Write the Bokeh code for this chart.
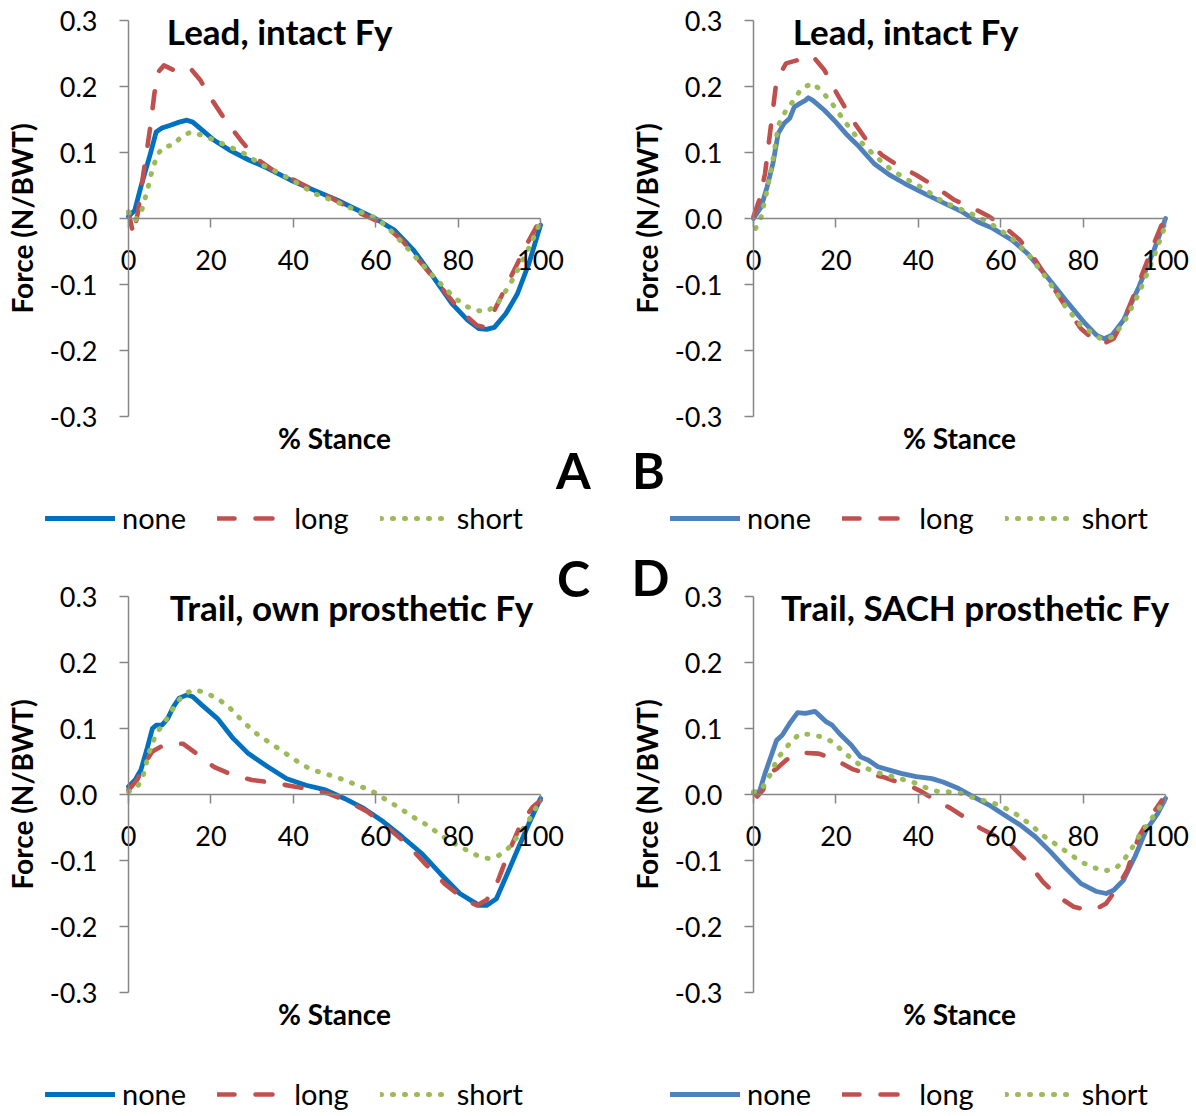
from bokeh.plotting import figure
from bokeh.models import Range1d, FixedTicker, Label, Legend, LegendItem
from bokeh.layouts import column, row
from bokeh.embed import file_html
from bokeh.resources import INLINE

# ---------------- data ----------------
series_names = ["none", "long", "short"]
x_ticks = [0, 20, 40, 60, 80, 100]
y_ticks = [-0.3, -0.2, -0.1, 0.0, 0.1, 0.2, 0.3]
y_tick_labels = ["-0.3", "-0.2", "-0.1", "0.0", "0.1", "0.2", "0.3"]
panel_titles = ["Lead, intact Fy", "Lead, intact Fy", "Trail, own prosthetic Fy", "Trail, SACH prosthetic Fy"]
panel_letters = ["A", "B", "C", "D"]

a_none_x = [0, 1.5, 3.0, 5.3, 6.7, 8.1, 10.0, 12.3, 14.2, 15.6, 17.9, 20.7, 24.4, 29.1, 33.8, 39.4, 45.0, 50.6, 55.2, 59.9, 64.6, 69.2, 73.9, 78.5, 82.3, 85.1, 86.9, 88.8, 91.6, 94.4, 97.2, 100]
a_none_y = [0.003, 0.012, 0.048, 0.098, 0.131, 0.137, 0.141, 0.146, 0.149, 0.146, 0.134, 0.119, 0.104, 0.089, 0.076, 0.058, 0.043, 0.028, 0.014, 0.0, -0.018, -0.048, -0.088, -0.129, -0.154, -0.167, -0.168, -0.165, -0.144, -0.114, -0.068, -0.010]
a_long_x = [0, 1.2, 2.3, 3.5, 5.3, 6.3, 7.2, 8.6, 10.9, 12.8, 15.1, 17.4, 19.8, 23.5, 27.2, 31.0, 35.6, 40.3, 45.0, 49.6, 54.3, 58.0, 61.8, 66.4, 71.1, 75.7, 80.4, 84.6, 86.0, 88.8, 91.6, 94.4, 97.2, 99.5]
a_long_y = [0.01, -0.025, 0.01, 0.063, 0.139, 0.19, 0.222, 0.232, 0.225, 0.23, 0.227, 0.21, 0.184, 0.149, 0.119, 0.091, 0.071, 0.058, 0.043, 0.030, 0.013, 0.003, -0.008, -0.033, -0.068, -0.103, -0.139, -0.162, -0.164, -0.139, -0.104, -0.068, -0.033, -0.007]
a_short_x = [0, 1.6, 3.2, 3.9, 4.7, 5.3, 6.2, 6.9, 8.6, 10.9, 12.8, 15.1, 17.9, 20.7, 24.4, 28.2, 31.9, 35.6, 40.3, 45.0, 50.6, 56.2, 60.4, 63.6, 67.4, 71.1, 74.8, 78.5, 81.3, 84.1, 86.9, 89.3, 92.5, 95.3, 97.7, 100]
a_short_y = [0.010, -0.003, 0.012, 0.028, 0.045, 0.063, 0.081, 0.096, 0.109, 0.111, 0.124, 0.131, 0.126, 0.119, 0.109, 0.098, 0.083, 0.072, 0.056, 0.038, 0.025, 0.010, 0.0, -0.018, -0.043, -0.068, -0.093, -0.116, -0.131, -0.139, -0.141, -0.131, -0.101, -0.068, -0.038, -0.005]

b_none_x = [0, 1.9, 3.3, 4.7, 6.0, 7.4, 8.8, 9.9, 11.2, 12.6, 13.3, 14.4, 17.2, 20.0, 22.8, 25.6, 29.3, 33.0, 36.7, 41.4, 46.0, 50.7, 54.4, 58.1, 62.8, 66.5, 71.2, 75.8, 80.5, 83.3, 85.1, 87.0, 89.8, 93.5, 97.2, 100]
b_none_y = [0.0, 0.018, 0.048, 0.083, 0.129, 0.144, 0.152, 0.169, 0.174, 0.179, 0.183, 0.179, 0.164, 0.146, 0.126, 0.109, 0.083, 0.066, 0.053, 0.038, 0.024, 0.010, -0.005, -0.015, -0.033, -0.053, -0.088, -0.124, -0.159, -0.177, -0.182, -0.177, -0.154, -0.104, -0.048, 0.0]
b_long_x = [0, 1.4, 2.8, 4.2, 5.6, 7.9, 10.7, 13.0, 14.9, 17.2, 20.0, 23.7, 27.4, 31.2, 34.9, 39.5, 44.2, 48.8, 53.5, 57.2, 60.9, 64.7, 68.4, 72.1, 75.8, 79.5, 83.3, 85.1, 87.4, 90.2, 93.5, 97.2, 99.5]
b_long_y = [0.003, 0.028, 0.068, 0.139, 0.210, 0.235, 0.240, 0.247, 0.242, 0.225, 0.192, 0.152, 0.119, 0.096, 0.081, 0.066, 0.048, 0.028, 0.015, 0.003, -0.013, -0.033, -0.063, -0.098, -0.134, -0.167, -0.187, -0.189, -0.182, -0.149, -0.098, -0.038, -0.003]
b_short_x = [0.5, 1.9, 3.3, 4.7, 6.0, 7.9, 9.8, 11.6, 14.4, 16.7, 19.1, 21.9, 25.6, 29.3, 33.0, 36.7, 41.4, 46.0, 50.7, 54.4, 58.1, 62.8, 66.5, 71.2, 75.8, 79.5, 84.2, 87.0, 89.8, 93.5, 97.2, 99.5]
b_short_y = [-0.015, 0.003, 0.043, 0.088, 0.141, 0.164, 0.179, 0.197, 0.205, 0.192, 0.174, 0.149, 0.119, 0.096, 0.076, 0.061, 0.045, 0.025, 0.013, 0.003, -0.010, -0.030, -0.053, -0.091, -0.134, -0.162, -0.182, -0.180, -0.159, -0.114, -0.058, -0.018]

c_none_x = [0, 1.6, 3.0, 4.4, 5.8, 6.7, 8.1, 9.5, 10.9, 12.3, 14.2, 15.6, 17.9, 21.6, 25.4, 29.1, 33.8, 38.4, 43.1, 47.8, 52.4, 57.1, 61.8, 66.4, 71.1, 75.7, 80.4, 85.1, 86.9, 89.3, 91.6, 94.4, 97.2, 100]
c_none_y = [0.012, 0.022, 0.037, 0.067, 0.100, 0.105, 0.105, 0.115, 0.133, 0.146, 0.151, 0.148, 0.135, 0.115, 0.085, 0.062, 0.042, 0.024, 0.014, 0.007, -0.006, -0.021, -0.041, -0.064, -0.089, -0.120, -0.150, -0.168, -0.168, -0.158, -0.125, -0.084, -0.044, -0.006]
c_long_x = [0, 2.1, 3.9, 5.8, 8.6, 11.4, 13.2, 17.0, 20.7, 25.4, 30.0, 34.7, 39.4, 44.0, 48.7, 53.4, 58.0, 62.7, 67.4, 72.0, 76.7, 81.3, 84.6, 86.9, 89.7, 92.5, 95.3, 98.1, 100]
c_long_y = [0.007, 0.022, 0.047, 0.065, 0.075, 0.077, 0.077, 0.060, 0.042, 0.029, 0.022, 0.018, 0.013, 0.008, 0.001, -0.011, -0.026, -0.049, -0.074, -0.105, -0.135, -0.158, -0.168, -0.160, -0.130, -0.084, -0.044, -0.019, -0.009]
c_short_x = [0, 2.2, 3.5, 4.9, 6.7, 8.6, 10.3, 11.8, 13.7, 16.0, 18.8, 21.6, 24.0, 26.3, 29.6, 31.9, 34.7, 37.0, 39.4, 41.7, 44.0, 46.8, 49.6, 52.4, 55.2, 58.0, 60.4, 62.7, 65.5, 67.8, 70.1, 72.4, 74.8, 77.1, 79.9, 82.3, 85.1, 87.4, 89.7, 92.1, 94.4, 97.2, 99.5]
c_short_y = [0.004, 0.012, 0.027, 0.062, 0.092, 0.108, 0.125, 0.140, 0.153, 0.159, 0.154, 0.145, 0.135, 0.120, 0.100, 0.088, 0.077, 0.067, 0.057, 0.047, 0.039, 0.033, 0.028, 0.022, 0.015, 0.008, 0.001, -0.009, -0.019, -0.029, -0.038, -0.046, -0.057, -0.067, -0.077, -0.085, -0.094, -0.097, -0.093, -0.082, -0.064, -0.039, -0.014]

d_none_x = [0, 1.4, 2.8, 4.2, 5.6, 7.0, 8.8, 10.7, 12.6, 14.9, 16.3, 17.7, 19.1, 20.9, 23.7, 26.0, 27.9, 30.2, 33.0, 35.8, 39.5, 43.3, 46.0, 49.8, 53.5, 57.2, 60.9, 64.7, 68.4, 72.1, 75.8, 79.5, 83.3, 85.6, 87.4, 89.8, 92.6, 95.3, 98.1, 100]
d_none_y = [0.003, 0.004, 0.032, 0.057, 0.082, 0.090, 0.108, 0.124, 0.123, 0.126, 0.118, 0.110, 0.105, 0.092, 0.075, 0.057, 0.052, 0.042, 0.037, 0.032, 0.027, 0.024, 0.019, 0.009, -0.004, -0.016, -0.031, -0.046, -0.064, -0.087, -0.112, -0.135, -0.147, -0.150, -0.145, -0.130, -0.094, -0.054, -0.029, -0.006]
d_long_x = [0, 0.9, 2.3, 3.7, 5.6, 7.9, 9.8, 12.6, 15.8, 18.1, 20.9, 24.2, 27.4, 31.2, 34.9, 37.7, 40.9, 44.2, 47.9, 51.6, 55.3, 59.1, 62.8, 66.5, 70.2, 74.0, 77.7, 80.9, 83.3, 85.6, 87.9, 90.7, 93.5, 96.3, 99.1]
d_long_y = [0.003, -0.003, 0.007, 0.032, 0.039, 0.052, 0.060, 0.063, 0.062, 0.057, 0.049, 0.038, 0.032, 0.027, 0.019, 0.014, 0.004, -0.009, -0.021, -0.036, -0.052, -0.064, -0.079, -0.102, -0.132, -0.155, -0.170, -0.175, -0.173, -0.165, -0.145, -0.115, -0.064, -0.034, -0.009]
d_short_x = [0, 1.9, 3.3, 4.7, 5.6, 7.4, 9.3, 11.2, 14.0, 16.7, 19.1, 21.4, 23.7, 26.0, 28.4, 31.2, 33.9, 36.7, 39.5, 42.3, 45.1, 47.4, 50.2, 53.0, 55.8, 58.6, 60.9, 63.3, 65.6, 67.9, 70.2, 72.6, 74.9, 77.2, 79.5, 82.3, 85.1, 87.9, 89.8, 91.6, 93.5, 95.8, 98.1, 99.8]
d_short_y = [0.004, 0.007, 0.022, 0.037, 0.053, 0.067, 0.081, 0.092, 0.091, 0.087, 0.080, 0.067, 0.055, 0.044, 0.037, 0.031, 0.027, 0.022, 0.017, 0.009, 0.004, 0.004, 0.002, -0.004, -0.009, -0.014, -0.020, -0.028, -0.038, -0.049, -0.062, -0.072, -0.082, -0.092, -0.102, -0.110, -0.116, -0.112, -0.100, -0.084, -0.064, -0.044, -0.024, -0.009]

# ---------------- style ----------------
FONT = "Lato"
AXIS_GRAY = "#868686"
LONG_COLOR = "#C0504D"
SHORT_COLOR = "#9BBB59"
PX_X = 4.12   # pixels per % stance
PX_Y = 660.0  # pixels per N/BWT
W = 598
H_TOP, H_BOTTOM = 545, 571


def make_panel(idx, series, none_color, h, axis_left_px, axis_top_px, title_x, title_y,
               letter_xy, legend_loc):
    x0 = -axis_left_px / PX_X
    x1 = (W - axis_left_px) / PX_X
    y1 = 0.3 + axis_top_px / PX_Y
    y0 = y1 - h / PX_Y
    p = figure(width=W, height=h, x_range=Range1d(x0, x1), y_range=Range1d(y0, y1),
               output_backend="svg", toolbar_location=None,
               min_border_left=0, min_border_right=0, min_border_top=0, min_border_bottom=0)
    p.outline_line_color = None
    p.xgrid.visible = False
    p.ygrid.visible = False
    p.background_fill_color = "white"
    p.border_fill_color = "white"

    # y axis at x = 0
    ya = p.yaxis[0]
    ya.fixed_location = 0
    ya.bounds = (-0.3, 0.3)
    ya.ticker = FixedTicker(ticks=y_ticks)
    ya.major_label_overrides = {t: l for t, l in zip(y_ticks, y_tick_labels)}
    ya.axis_label = "Force (N/BWT)"
    ya.axis_label_text_font = FONT
    ya.axis_label_text_font_style = "bold"
    ya.axis_label_text_font_size = "28px"
    ya.axis_label_text_color = "black"
    ya.axis_label_standoff = 8
    ya.major_label_text_font = FONT
    ya.major_label_text_font_size = "27px"
    ya.major_label_text_color = "black"
    ya.major_label_standoff = 22
    ya.major_tick_out = 9
    ya.major_tick_in = 0
    ya.minor_tick_out = 0
    ya.minor_tick_in = 0
    ya.axis_line_color = AXIS_GRAY
    ya.axis_line_width = 1.5
    ya.major_tick_line_color = AXIS_GRAY
    ya.major_tick_line_width = 1.5

    # x axis crossing at y = 0
    xa = p.xaxis[0]
    xa.fixed_location = 0
    xa.bounds = (0, 100)
    xa.ticker = FixedTicker(ticks=x_ticks)
    xa.major_label_text_font = FONT
    xa.major_label_text_font_size = "27px"
    xa.major_label_text_color = "black"
    xa.major_label_standoff = 22
    xa.major_tick_out = 9
    xa.major_tick_in = 0
    xa.minor_tick_out = 0
    xa.minor_tick_in = 0
    xa.axis_line_color = AXIS_GRAY
    xa.axis_line_width = 1.5
    xa.major_tick_line_color = AXIS_GRAY
    xa.major_tick_line_width = 1.5

    (nx, ny), (lx, ly), (sx, sy) = series
    r_none = p.line(nx, ny, line_color=none_color, line_width=4.8, line_join="round", line_cap="round")
    r_long = p.line(lx, ly, line_color=LONG_COLOR, line_width=4.6, line_dash="17 21", line_cap="round", line_join="round")
    r_short = p.line(sx, sy, line_color=SHORT_COLOR, line_width=5, line_dash="1 11", line_cap="round", line_join="round")

    legend = Legend(items=[LegendItem(label=series_names[0], renderers=[r_none]),
                           LegendItem(label=series_names[1], renderers=[r_long]),
                           LegendItem(label=series_names[2], renderers=[r_short])],
                    orientation="horizontal", location=legend_loc,
                    label_text_font=FONT, label_text_font_size="29px", label_text_color="black",
                    glyph_width=70, glyph_height=30, label_height=30, label_standoff=7, spacing=31,
                    padding=0, margin=0, border_line_color=None, background_fill_alpha=0)
    p.add_layout(legend)

    p.add_layout(Label(x=title_x, y=title_y, text=panel_titles[idx], text_font=FONT, text_font_size="35px",
                       text_font_style="bold", text_color="black", text_align="center", text_baseline="alphabetic"))
    p.add_layout(Label(x=50, y=-0.3333, text="% Stance", text_font=FONT, text_font_size="28px",
                       text_font_style="bold", text_color="black", text_align="center", text_baseline="alphabetic"))
    p.add_layout(Label(x=letter_xy[0], y=letter_xy[1], text=panel_letters[idx], text_font=FONT, text_font_size="50px",
                       text_font_style="bold", text_color="black", text_align="center", text_baseline="alphabetic"))
    return p


pa = make_panel(0, [(a_none_x, a_none_y), (a_long_x, a_long_y), (a_short_x, a_short_y)], "#0070C0",
                H_TOP, 128, 20, 36.7, 0.2848, (108.0, -0.3818), (45, 10))
pb = make_panel(1, [(b_none_x, b_none_y), (b_long_x, b_long_y), (b_short_x, b_short_y)], "#4F81BD",
                H_TOP, 155, 20, 36.9, 0.2848, (-25.5, -0.3818), (72, 10))
pc = make_panel(2, [(c_none_x, c_none_y), (c_long_x, c_long_y), (c_short_x, c_short_y)], "#0070C0",
                H_BOTTOM, 128, 596 - H_TOP, 54.1, 0.2848, (108.0, 0.3273), (45, 5))
pd = make_panel(3, [(d_none_x, d_none_y), (d_long_x, d_long_y), (d_short_x, d_short_y)], "#4F81BD",
                H_BOTTOM, 155, 596 - H_TOP, 53.8, 0.2848, (-25.0, 0.3288), (72, 5))

layout = column(row(pa, pb), row(pc, pd))
open("out.html", "w").write(file_html(layout, INLINE))
